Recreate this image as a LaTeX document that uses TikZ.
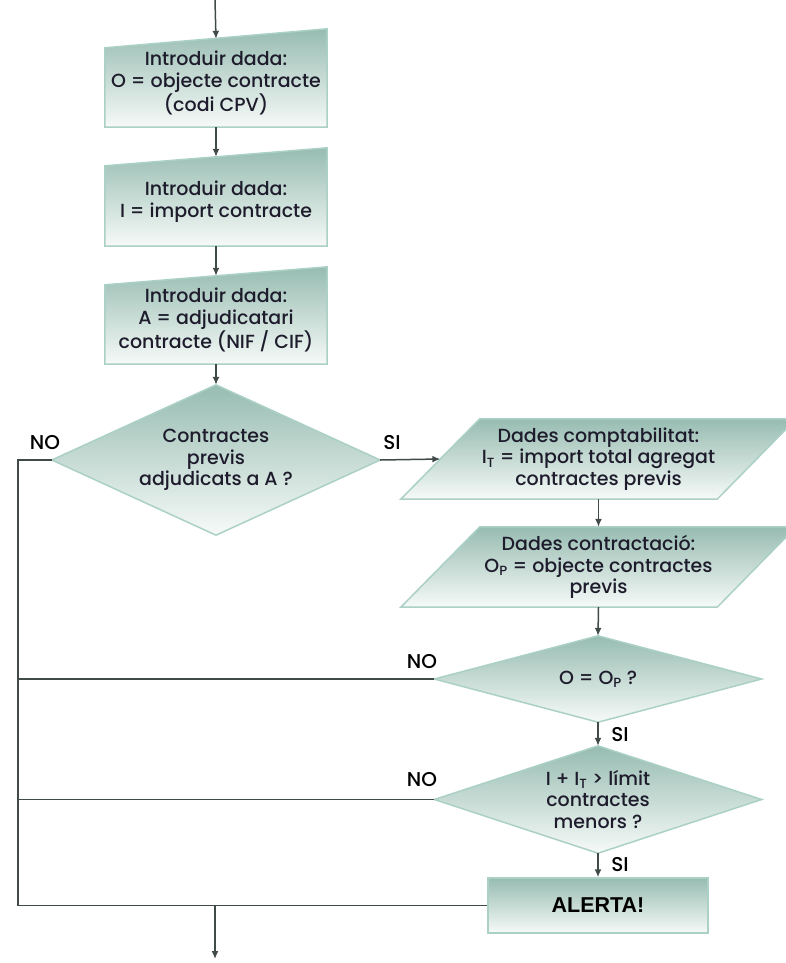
\documentclass[tikz,border=0pt]{standalone}
\usepackage{fontspec}
\setmainfont{Poppins}[UprightFont=* Medium]
\newfontfamily\alertfont{Liberation Sans}
\usetikzlibrary{shapes.geometric,arrows.meta,calc,backgrounds}
\definecolor{fillTop}{HTML}{97BCB1}
\definecolor{fillBot}{HTML}{F6FAF8}
\definecolor{edgeC}{HTML}{ABD0C6}
\definecolor{lineC}{HTML}{3F4A49}
\definecolor{txtC}{HTML}{1E1C2C}
\begin{document}
\begin{tikzpicture}[x=1pt,y=-1pt,
  shapefill/.style={top color=fillTop,bottom color=fillBot,draw=edgeC,line width=1.5pt},
  lbl/.style={font=\fontsize{19}{21.5}\selectfont, text=txtC, align=center},
  inbox/.style={lbl, rectangle, minimum width=222pt, minimum height=88pt, inner sep=0pt},
  databox/.style={lbl, rectangle, minimum width=316pt, minimum height=80pt, inner sep=0pt},
  decision/.style={lbl, rectangle, inner sep=0pt},
  flow/.style={draw=lineC, line width=1.5pt},
  arr/.style={flow, -{Latex[length=8pt,width=7pt]}},
  yesno/.style={font=\fontsize{20}{21}\selectfont, text=black, inner sep=0pt}
]
\useasboundingbox (0,0) rectangle (785,963);
\clip (0,0) rectangle (785,963);

% input boxes
\node[inbox] (b1) at (216,83) {Introduir dada:\\O = objecte contracte\\(codi CPV)};
\node[inbox, minimum height=89pt] (b2) at (216,201.5) {Introduir dada:\\I = import contracte};
\node[inbox] (b3) at (216,320) {Introduir dada:\\A = adjudicatari\\contracte (NIF / CIF)};

% decisions
\node[decision, minimum width=328pt, minimum height=150pt] (d1) at (216,460) {Contractes\\previs\\adjudicats a A ?};
\node[decision, minimum width=327pt, minimum height=86pt] (d2) at (598,679) {O = O\textsubscript{P} ?};
\node[decision, minimum width=327pt, minimum height=107pt] (d3) at (598,799.5) {I + I\textsubscript{T} > límit\\contractes\\menors ?};

% data boxes
\node[databox] (p1) at (598.5,459) {Dades comptabilitat:\\I\textsubscript{T} = import total agregat\\contractes previs};
\node[databox] (p2) at (598.5,567) {Dades contractació:\\O\textsubscript{P} = objecte contractes\\previs};

% alert
\node[rectangle, shapefill, minimum width=220pt, minimum height=55pt, inner sep=0pt,
      font=\alertfont\bfseries\fontsize{21.5}{24}\selectfont, text=black] (al) at (598,905.5) {ALERTA!};

\begin{scope}[on background layer]
  \path[shapefill] (b1.south west) -- (b1.south east) -- ($(b1.north east)+(0,-10)$) -- ($(b1.north west)+(0,9)$) -- cycle;
  \path[shapefill] (b2.south west) -- (b2.south east) -- ($(b2.north east)+(0,-9)$) -- ($(b2.north west)+(0,9)$) -- cycle;
  \path[shapefill] (b3.south west) -- (b3.south east) -- ($(b3.north east)+(0,-9)$) -- ($(b3.north west)+(0,9)$) -- cycle;
  \path[shapefill] ($(p1.south west)+(-39.5,0)$) -- ($(p1.north west)+(39.5,0)$) -- ($(p1.north east)+(39.5,0)$) -- ($(p1.south east)+(-39.5,0)$) -- cycle;
  \path[shapefill] ($(p2.south west)+(-39.5,0)$) -- ($(p2.north west)+(39.5,0)$) -- ($(p2.north east)+(39.5,0)$) -- ($(p2.south east)+(-39.5,0)$) -- cycle;
  \path[shapefill] (d1.north) -- (d1.east) -- (d1.south) -- (d1.west) -- cycle;
  \path[shapefill] (d2.north) -- (d2.east) -- (d2.south) -- (d2.west) -- cycle;
  \path[shapefill] (d3.north) -- (d3.east) -- (d3.south) -- (d3.west) -- cycle;
\end{scope}

% helper coordinates
\coordinate (start) at (215,0);
\coordinate (lt) at (18,460);
\coordinate (out) at (215,905.5);
\coordinate (end) at (215,959);

% connectors
\draw[arr] (start) -- (b1.north);
\draw[arr] (b1.south) -- (b2.north);
\draw[arr] (b2.south) -- (b3.north);
\draw[arr] (b3.south) -- (d1.north);
\draw[arr] (d1.east) -- (p1.west);
\draw[arr] (p1.south) -- (p2.north);
\draw[arr] (p2.south) -- (d2.north);
\draw[arr] (d2.south) -- (d3.north);
\draw[arr] (d3.south) -- (al.north);
\draw[flow] (d1.west) -- (lt) |- (al.west);
\draw[flow] (d2.west) -- (d2.west -| lt);
\draw[flow] (d3.west) -- (d3.west -| lt);
\draw[arr] (out) -- (end);

% labels
\node[yesno] (no1) at (45,443) {NO};
\node[yesno] (si1) at (392,443) {SI};
\node[yesno] (no2) at (422,662) {NO};
\node[yesno] (si2) at (620,735) {SI};
\node[yesno] (no3) at (422,780) {NO};
\node[yesno] (si3) at (620,865) {SI};
\end{tikzpicture}
\end{document}
